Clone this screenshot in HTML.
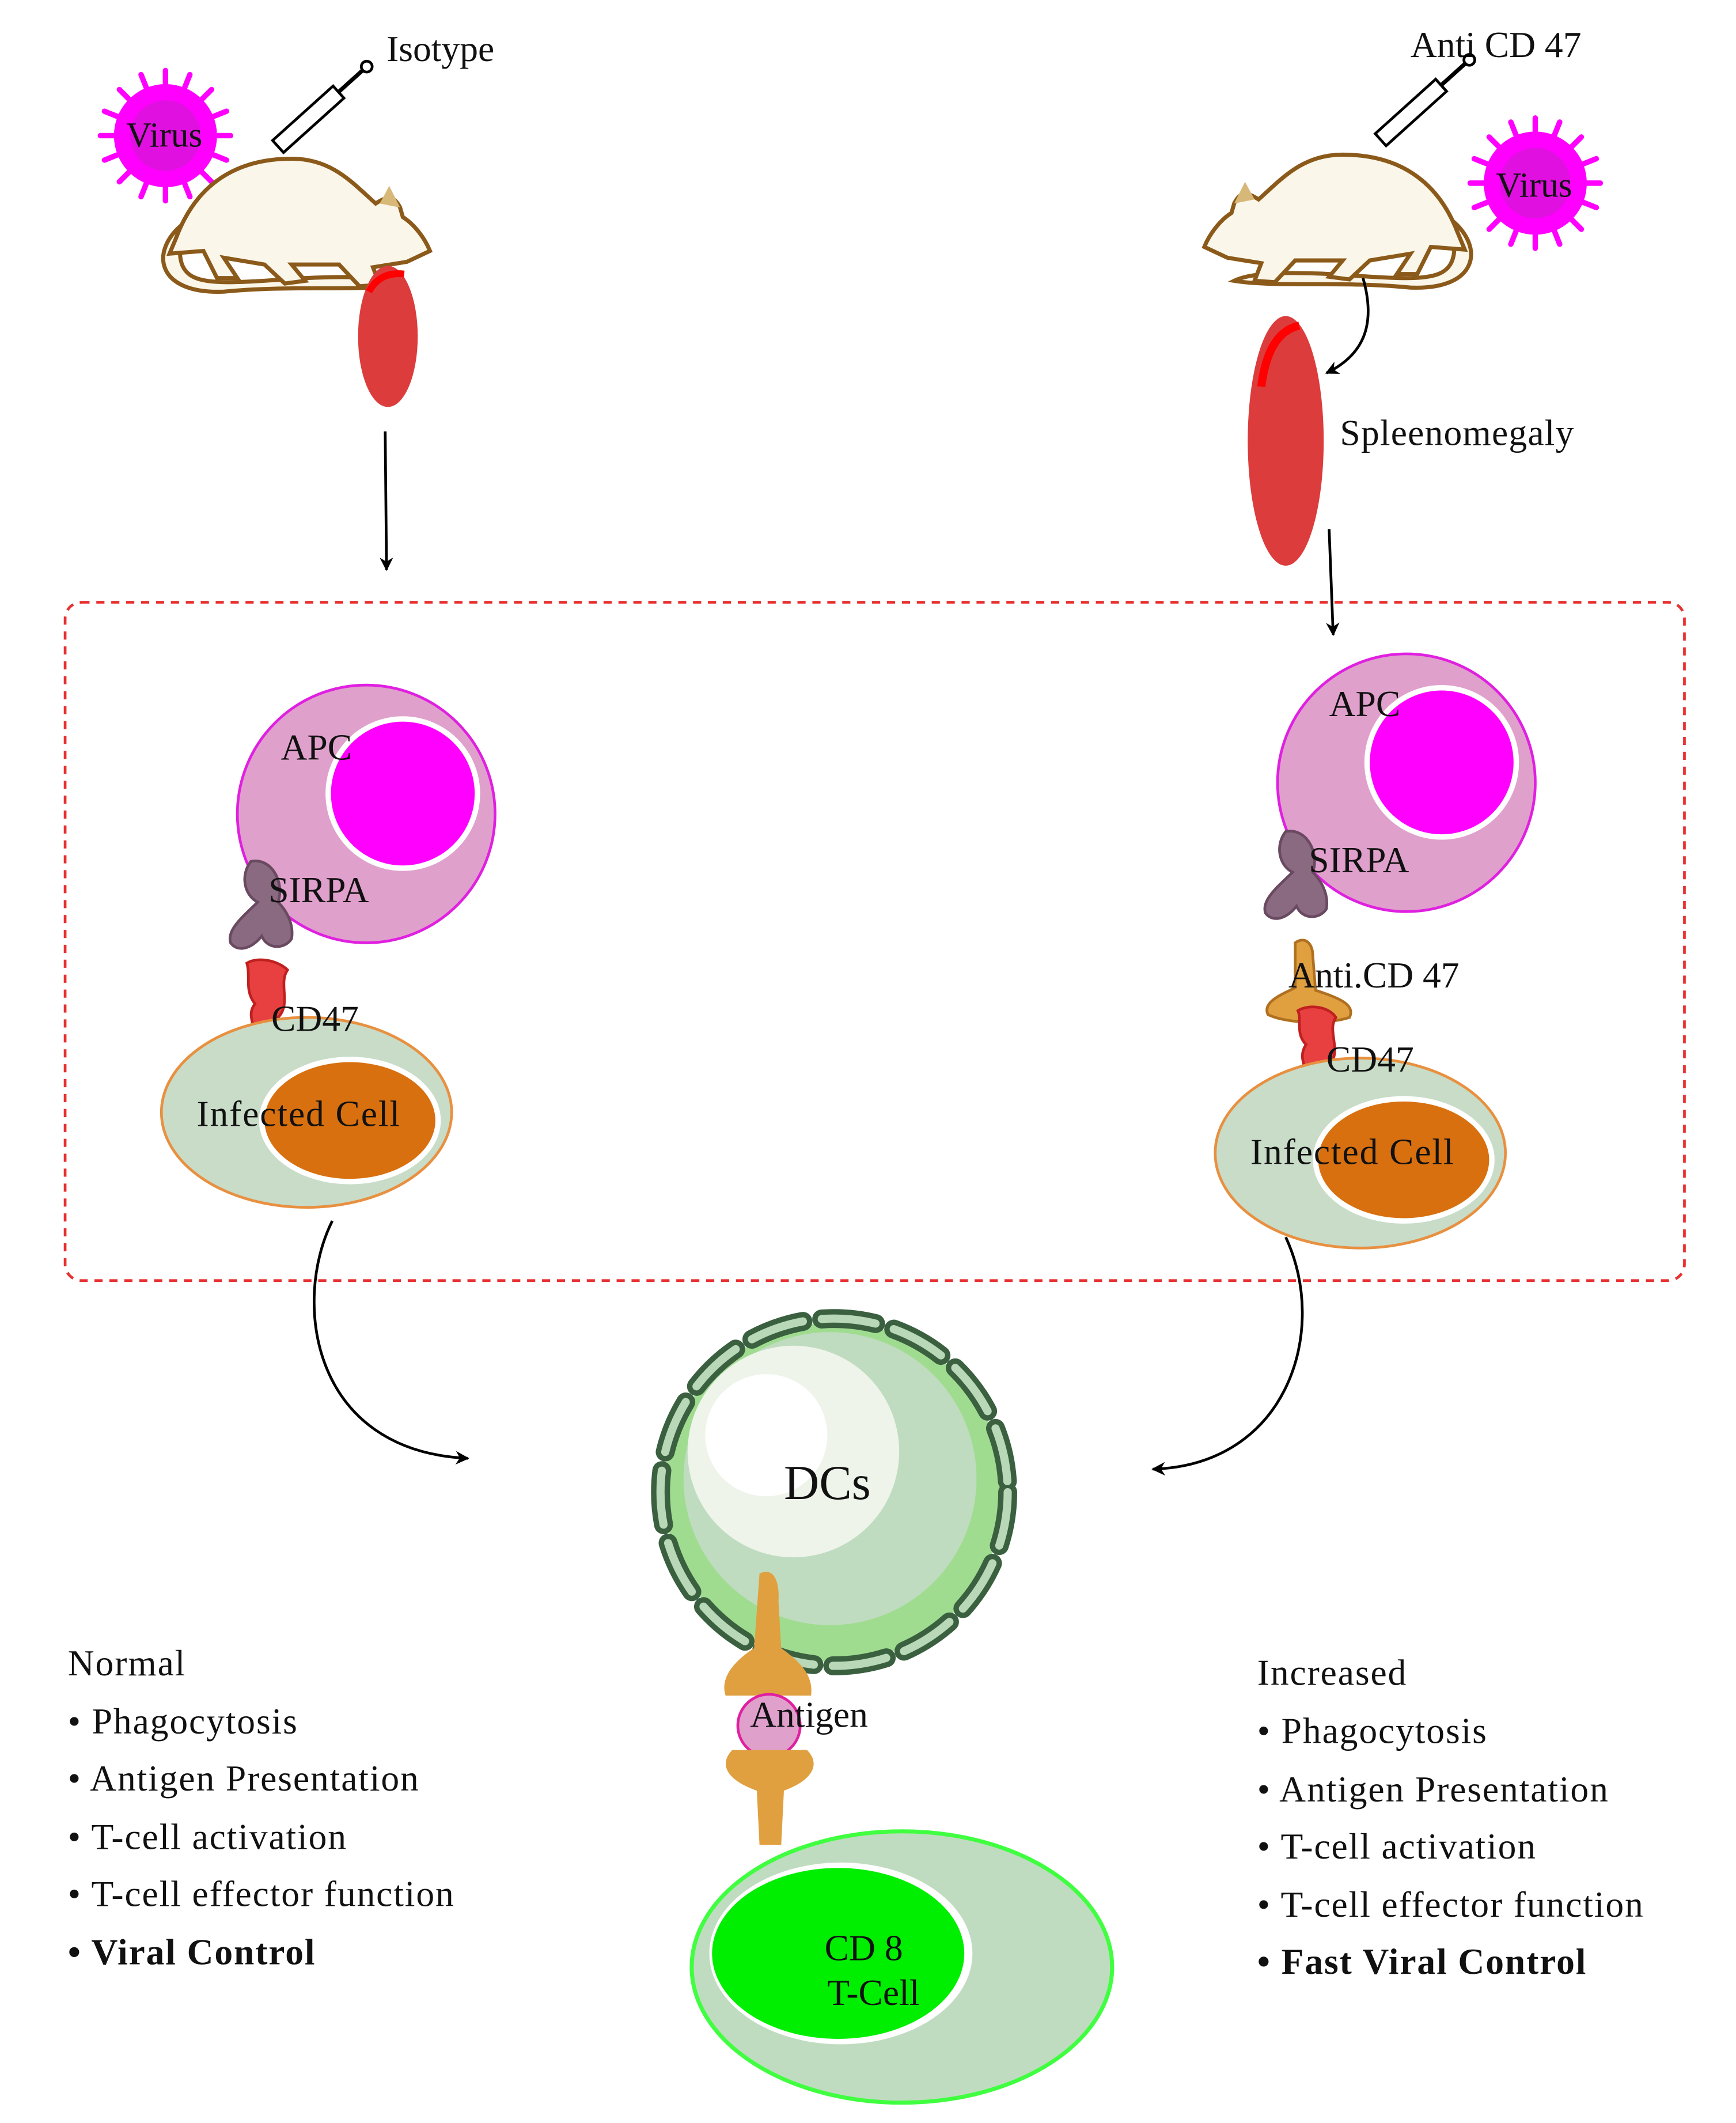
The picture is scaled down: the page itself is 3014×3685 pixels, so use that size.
<!DOCTYPE html>
<html><head><meta charset="utf-8"><style>
html,body{margin:0;padding:0;background:#fff;}
svg{display:block;}
text{font-family:"Liberation Serif",serif;fill:#111;}
</style></head><body>
<svg width="3014" height="3685" viewBox="0 0 1280 1565" xmlns="http://www.w3.org/2000/svg">
<defs>
<marker id="ah" markerWidth="10" markerHeight="10" refX="9" refY="5" orient="auto" markerUnits="userSpaceOnUse"><path d="M0,0 L10,5 L0,10 L3,5 z" fill="#000"/></marker>
<g id="virus">
<g fill="#ff00ff" stroke="#ff00ff" stroke-width="4" stroke-linecap="round">
<line x1="0" y1="-48" x2="0" y2="48"/><line x1="-48" y1="0" x2="48" y2="0"/>
<line x1="-34" y1="-34" x2="34" y2="34"/><line x1="-34" y1="34" x2="34" y2="-34"/>
<line x1="-18" y1="-45" x2="18" y2="45"/><line x1="18" y1="-45" x2="-18" y2="45"/>
<line x1="-45" y1="-18" x2="45" y2="18"/><line x1="-45" y1="18" x2="45" y2="-18"/>
<circle r="38" stroke="none"/></g>
<circle r="26" fill="#e010e0"/>
</g>
<g id="mouse">
<path d="M-70,10 C-80,60 -60,55 20,50 C60,48 80,50 90,55 C60,60 10,55 -40,60 C-90,62 -95,30 -70,10z" fill="#fbf6ea" stroke="#8b5a1a" stroke-width="3"/>
<path d="M-75,20 C-60,-20 -30,-38 10,-38 C40,-38 55,-20 72,-5 C80,-10 85,-12 90,-2 L92,5 C100,10 108,20 112,30 L95,38 L70,42 L75,55 L60,56 L45,40 L10,40 L20,52 L5,54 L-10,40 L-40,35 L-30,50 L-45,50 L-55,30 L-80,32z" fill="#fbf6ea" stroke="#8b5a1a" stroke-width="3"/>
<path d="M75,-5 L82,-18 L90,-2z" fill="#d8b878"/>
</g>
<g id="tsh">
<path d="M-20,-55 C-28,-45 -25,-30 -15,-25 C-25,-15 -38,-5 -35,5 C-30,12 -20,10 -12,0 C-8,10 5,10 10,2 C12,-10 5,-20 0,-25 C5,-40 -5,-58 -20,-55z" fill="#8a6a80" stroke="#6a4a60" stroke-width="2"/>
</g>
</defs>

<use href="#virus" x="122" y="100"/>
<text x="93" y="108" font-size="26">Virus</text>
<g transform="translate(205,108) rotate(-42)"><rect x="0" y="-6" width="60" height="12" fill="#fff" stroke="#000" stroke-width="2"/><line x1="60" y1="0" x2="85" y2="0" stroke="#000" stroke-width="3"/><circle cx="88" cy="0" r="4" fill="none" stroke="#000" stroke-width="2"/></g>
<text x="285" y="45" font-size="27">Isotype</text>
<use href="#mouse" x="205" y="155"/>
<ellipse cx="286" cy="248" rx="22" ry="52" fill="#dc3c3c"/>
<path d="M272,215 Q280,200 298,202" stroke="#ff0000" stroke-width="5" fill="none"/>
<line x1="284" y1="318" x2="285" y2="420" stroke="#000" stroke-width="2" marker-end="url(#ah)"/>

<text x="1040" y="42" font-size="27">Anti CD 47</text>
<g transform="translate(1018,103) rotate(-42)"><rect x="0" y="-6" width="60" height="12" fill="#fff" stroke="#000" stroke-width="2"/><line x1="60" y1="0" x2="85" y2="0" stroke="#000" stroke-width="3"/><circle cx="88" cy="0" r="4" fill="none" stroke="#000" stroke-width="2"/></g>
<g transform="translate(1000,152) scale(-1,1)"><use href="#mouse"/></g>
<use href="#virus" x="1132" y="135"/>
<text x="1103" y="145" font-size="26">Virus</text>
<ellipse cx="948" cy="325" rx="28" ry="92" fill="#dc3c3c"/>
<path d="M930,285 Q935,245 958,240" stroke="#ff0000" stroke-width="6" fill="none"/>
<text x="988" y="328" font-size="27" letter-spacing="0.5">Spleenomegaly</text>
<path d="M1005,205 C1015,240 1005,262 978,275" stroke="#000" stroke-width="2" fill="none" marker-end="url(#ah)"/>
<line x1="980" y1="390" x2="983" y2="468" stroke="#000" stroke-width="2" marker-end="url(#ah)"/>

<rect x="48" y="444" width="1194" height="500" rx="12" fill="none" stroke="#e83030" stroke-width="2" stroke-dasharray="6,5"/>

<circle cx="270" cy="600" r="95" fill="#e0a0cc" stroke="#e020e0" stroke-width="2"/>
<circle cx="297" cy="585" r="57" fill="#fff"/>
<circle cx="297" cy="585" r="53" fill="#ff00ff"/>
<text x="207" y="560" font-size="27">APC</text>
<use href="#tsh" x="205" y="690"/>
<text x="198" y="665" font-size="27">SIRPA</text>
<path d="M182,710 C190,705 205,708 212,715 C205,725 215,740 205,750 C212,760 200,775 188,775 C192,760 180,750 188,740 C180,730 185,720 182,710z" fill="#e84040" stroke="#c02020" stroke-width="2"/>
<ellipse cx="226" cy="820" rx="107" ry="70" fill="#c8dcc8" stroke="#e89040" stroke-width="2"/>
<ellipse cx="258" cy="826" rx="67" ry="47" fill="#fff"/>
<ellipse cx="258" cy="826" rx="63" ry="43" fill="#d87010"/>
<text x="200" y="760" font-size="27">CD47</text>
<text x="145" y="830" font-size="27" letter-spacing="0.8">Infected Cell</text>

<circle cx="1037" cy="577" r="95" fill="#e0a0cc" stroke="#e020e0" stroke-width="2"/>
<circle cx="1063" cy="562" r="57" fill="#fff"/>
<circle cx="1063" cy="562" r="53" fill="#ff00ff"/>
<text x="980" y="528" font-size="27">APC</text>
<use href="#tsh" x="968" y="668"/>
<text x="965" y="643" font-size="27">SIRPA</text>
<path d="M955,695 C962,690 968,695 968,705 L970,730 C985,735 1000,740 995,750 C980,755 950,755 935,748 C930,738 948,732 955,728z" fill="#e0a040" stroke="#b07020" stroke-width="2"/>
<path d="M957,745 C965,740 980,742 985,750 C978,760 990,775 980,785 C985,795 975,805 962,805 C968,790 955,782 963,770 C955,762 960,752 957,745z" fill="#e84040" stroke="#c02020" stroke-width="2"/>
<ellipse cx="1003" cy="850" rx="107" ry="70" fill="#c8dcc8" stroke="#e89040" stroke-width="2"/>
<ellipse cx="1035" cy="855" rx="67" ry="47" fill="#fff"/>
<ellipse cx="1035" cy="855" rx="63" ry="43" fill="#d87010"/>
<text x="950" y="728" font-size="27">Anti.CD 47</text>
<text x="978" y="790" font-size="27">CD47</text>
<text x="922" y="858" font-size="27" letter-spacing="0.8">Infected Cell</text>

<path d="M245,900 C215,960 230,1070 345,1075" stroke="#000" stroke-width="2" fill="none" marker-end="url(#ah)"/>
<path d="M948,912 C980,980 950,1080 850,1083" stroke="#000" stroke-width="2" fill="none" marker-end="url(#ah)"/>

<circle cx="615" cy="1100" r="125" fill="#a0dc90"/>
<circle cx="612" cy="1090" r="108" fill="#c0dcc0"/>
<circle cx="585" cy="1070" r="78" fill="#eef4ea"/>
<circle cx="565" cy="1058" r="45" fill="#fff"/>
<circle cx="615" cy="1100" r="128" fill="none" stroke="#3a6040" stroke-width="14" stroke-dasharray="40,14" stroke-linecap="round"/>
<circle cx="615" cy="1100" r="128" fill="none" stroke="#b8d8b8" stroke-width="6" stroke-dasharray="40,14" stroke-linecap="round"/>
<text x="578" y="1105" font-size="36">DCs</text>

<path d="M560,1160 C570,1155 575,1165 574,1180 L576,1215 C590,1225 600,1235 598,1250 L535,1250 C530,1235 545,1222 556,1215 Z" fill="#e0a040"/>
<circle cx="567" cy="1272" r="23" fill="#e0a0cc" stroke="#e020a0" stroke-width="2"/>
<path d="M540,1290 L595,1290 C605,1300 600,1312 578,1320 L576,1360 L560,1360 L558,1320 C535,1312 530,1300 540,1290z" fill="#e0a040"/>
<text x="553" y="1273" font-size="27">Antigen</text>

<ellipse cx="665" cy="1450" rx="155" ry="100" fill="#c0dcc0" stroke="#40ff40" stroke-width="3"/>
<ellipse cx="620" cy="1440" rx="97" ry="67" fill="#fff"/>
<ellipse cx="618" cy="1440" rx="93" ry="63" fill="#00ee00"/>
<text x="608" y="1445" font-size="27">CD 8</text>
<text x="610" y="1478" font-size="27">T-Cell</text>

<g font-size="27" letter-spacing="0.8">
<text x="50" y="1235">Normal</text>
<text x="50" y="1278">•  Phagocytosis</text>
<text x="50" y="1320">• Antigen Presentation</text>
<text x="50" y="1363">• T-cell activation</text>
<text x="50" y="1405">• T-cell effector function</text>
<text x="50" y="1448" font-weight="bold">• Viral Control</text>
<text x="927" y="1242">Increased</text>
<text x="927" y="1285">•  Phagocytosis</text>
<text x="927" y="1328">• Antigen Presentation</text>
<text x="927" y="1370">• T-cell activation</text>
<text x="927" y="1413">• T-cell effector function</text>
<text x="927" y="1455" font-weight="bold">• Fast Viral Control</text>
</g>
</svg>
</body></html>
